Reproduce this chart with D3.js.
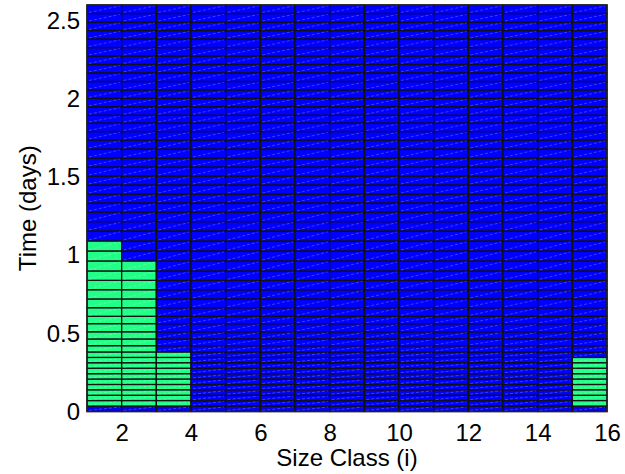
<!DOCTYPE html>
<html>
<head>
<meta charset="UTF-8">
<title>Size class vs time</title>
<script src="https://d3js.org/d3.v7.min.js"></script>
<style>
  body { margin: 0; background: #fff; }
  svg { display: block; font-family: "Liberation Sans", Arial, Helvetica, sans-serif; }
</style>
</head>
<body>
<div id="chart"></div>
<script>
// size class edges (columns drawn between consecutive values)
const sizeClasses = [1, 2, 3, 4, 5, 6, 7, 8, 9, 10, 11, 12, 13, 14, 15, 16];
// output times (days), row edges
const times = [0, 0.035, 0.070, 0.104, 0.139, 0.173, 0.208, 0.242, 0.277, 0.312, 0.346, 0.381,
  0.421, 0.464, 0.510, 0.562, 0.609, 0.664, 0.720, 0.779, 0.839, 0.899, 0.963, 1.027, 1.091,
  1.155, 1.215, 1.276, 1.334, 1.391, 1.449, 1.506, 1.564, 1.621, 1.679, 1.737, 1.791, 1.845,
  1.895, 1.949, 2.003, 2.057, 2.111, 2.166, 2.220, 2.274, 2.328, 2.383, 2.437, 2.491, 2.546, 2.600];
// per size class: time up to which the cell is "on" (green), 0 = never
const onUntil = [1.091, 0.963, 0.381, 0, 0, 0, 0, 0, 0, 0, 0, 0, 0, 0, 0.346];
const xTicks = [2, 4, 6, 8, 10, 12, 14, 16];
const yTicks = [0, 0.5, 1, 1.5, 2, 2.5];

const W = 625, H = 474;
const m = { left: 87, right: 607, top: 5, bottom: 411.5 };
const blue = "#0000ff", green = "#22ff88";
const fs = 24;

const svg = d3.select("#chart").append("svg").attr("width", W).attr("height", H);

const x = d3.scaleLinear().domain([sizeClasses[0], sizeClasses[sizeClasses.length - 1]]).range([m.left, m.right]);
const y = d3.scaleLinear().domain([0, times[times.length - 1]]).range([m.bottom, m.top]);

// build cells
const cells = [];
for (let c = 0; c < sizeClasses.length - 1; c++) {
  for (let r = 0; r < times.length - 1; r++) {
    const on = r > 0 && times[r + 1] <= onUntil[c] + 1e-6;
    cells.push({ x0: sizeClasses[c], x1: sizeClasses[c + 1], t0: times[r], t1: times[r + 1], on });
  }
}

const g = svg.append("g");
g.selectAll("rect.cell")
  .data(cells)
  .enter()
  .append("rect")
  .attr("class", "cell")
  .attr("x", d => x(d.x0))
  .attr("y", d => y(d.t1))
  .attr("width", d => x(d.x1) - x(d.x0))
  .attr("height", d => y(d.t0) - y(d.t1))
  .attr("fill", d => d.on ? green : blue)
  .attr("stroke", "#111")
  .attr("stroke-width", 1.3);

// faint triangle seams
g.selectAll("line.seam")
  .data(cells)
  .enter()
  .append("line")
  .attr("class", "seam")
  .attr("x1", d => x(d.x0) + 2)
  .attr("y1", d => y(d.t0) - 1)
  .attr("x2", d => x(d.x1) - 2)
  .attr("y2", d => y(d.t1) + 1)
  .attr("stroke", "#fff")
  .attr("stroke-opacity", 0.3)
  .attr("stroke-width", 0.8)
  .attr("stroke-dasharray", "3,2");

// axes box
svg.append("rect")
  .attr("x", m.left).attr("y", m.top)
  .attr("width", m.right - m.left).attr("height", m.bottom - m.top)
  .attr("fill", "none").attr("stroke", "#222").attr("stroke-width", 1.5);

const xAxis = svg.append("g")
  .attr("transform", `translate(0,${m.bottom})`)
  .call(d3.axisBottom(x).tickValues(xTicks).tickSize(0).tickPadding(12).tickFormat(d3.format("d")));
xAxis.select(".domain").remove();
xAxis.selectAll("text").attr("font-size", fs).attr("fill", "#000").attr("font-family", "Liberation Sans, Arial, sans-serif");

const yAxis = svg.append("g")
  .attr("transform", `translate(${m.left},0)`)
  .call(d3.axisLeft(y).tickValues(yTicks).tickSize(0).tickPadding(7).tickFormat(d => String(d)));
yAxis.select(".domain").remove();
yAxis.selectAll("text").attr("font-size", fs).attr("fill", "#000").attr("font-family", "Liberation Sans, Arial, sans-serif");

svg.append("text")
  .attr("x", (m.left + m.right) / 2).attr("y", 466)
  .attr("text-anchor", "middle").attr("font-size", fs)
  .text("Size Class (i)");

svg.append("text")
  .attr("transform", `translate(36,${(m.top + m.bottom) / 2}) rotate(-90)`)
  .attr("text-anchor", "middle").attr("font-size", fs)
  .text("Time (days)");
</script>
</body>
</html>
